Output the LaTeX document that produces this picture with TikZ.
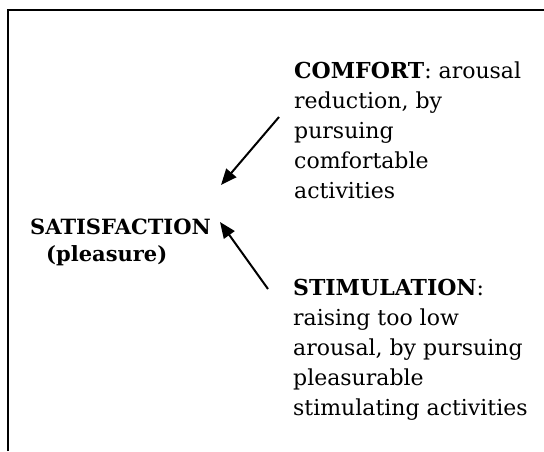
\documentclass[tikz,border=0pt]{standalone}
\usepackage{fontspec}
\setmainfont{DejaVu Serif}
\usetikzlibrary{arrows.meta}
\tikzset{
  txt/.style={inner sep=0pt, align=left, anchor=base west, font=\fontsize{22}{30}\selectfont},
  head/.style={inner sep=0pt, anchor=base west, font=\fontsize{21}{30}\selectfont\bfseries},
  arr/.style={line width=2pt, -{Triangle[length=16pt,width=13pt]}},
  frame/.style={line width=2pt}
}
\begin{document}
\begin{tikzpicture}[x=1pt,y=-1pt]
\useasboundingbox (0,0) rectangle (544,451);
\draw[frame] (8,451) -- (8,10) -- (545,10);
\node[txt] (comfort) at (294,198) {\textbf{COMFORT}: arousal\\reduction, by\\pursuing\\comfortable\\activities};
\node[head] (sat) at (30,234) {SATISFACTION};
\node[head] (pl) at (46,261) {(pleasure)};
\node[txt] (stim) at (293,415) {\textbf{STIMULATION}:\\raising too low\\arousal, by pursuing\\pleasurable\\stimulating activities};
\coordinate (c1) at (279,117);
\coordinate (t1) at (221,185);
\coordinate (c2) at (268,289);
\coordinate (t2) at (220,222);
\draw[arr] (c1) -- (t1);
\draw[arr] (c2) -- (t2);
\end{tikzpicture}
\end{document}
